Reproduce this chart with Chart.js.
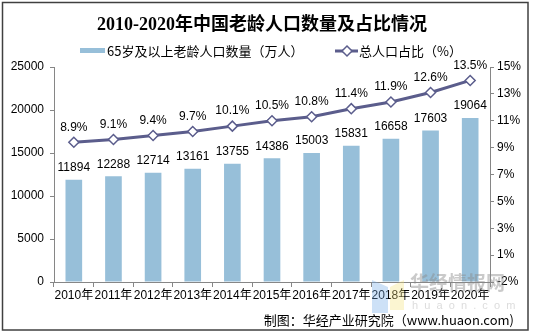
<!DOCTYPE html>
<html>
<head>
<meta charset="utf-8">
<script src="https://cdn.jsdelivr.net/npm/chart.js@4/dist/chart.umd.min.js"></script>
<style>
body { margin: 0; background: #fff; }
</style>
</head>
<body>
<canvas id="myChart" width="534" height="335"></canvas>
<script>
// 数据
var years = ["2010年", "2011年", "2012年", "2013年", "2014年", "2015年", "2016年", "2017年", "2018年", "2019年", "2020年"];
var elderly = [11894, 12288, 12714, 13161, 13755, 14386, 15003, 15831, 16658, 17603, 19064];
var share = [8.9, 9.1, 9.4, 9.7, 10.1, 10.5, 10.8, 11.4, 11.9, 12.6, 13.5];

var titleText = "2010-2020年中国老龄人口数量及占比情况";
var barLabel = "65岁及以上老龄人口数量（万人）";
var lineLabel = "总人口占比（%）";
var sourceText = "制图：华经产业研究院（www.huaon.com)";

var barColor = "#97bfd9";
var lineColor = "#5b5d8c";
var axisColor = "#868686";
var font = '"Liberation Sans", Arial, "Noto Sans CJK SC", sans-serif';
var cjkFont = '"Noto Sans CJK SC", "Liberation Sans", sans-serif';

// 标题、图例、数值标签、来源、边框
var extras = {
	id: "extras",
	afterDatasetsDraw: function (chart) {
		var ctx = chart.ctx;
		ctx.save();
		ctx.fillStyle = "#000";
		ctx.textAlign = "center";
		ctx.textBaseline = "bottom";
		ctx.font = "12px " + font;
		chart.getDatasetMeta(0).data.forEach(function (bar, i) {
			ctx.fillText(elderly[i], bar.x, bar.y - 6);
		});
		chart.getDatasetMeta(1).data.forEach(function (pt, i) {
			ctx.fillText(share[i].toFixed(1) + "%", pt.x, pt.y - 9);
		});
		ctx.restore();
	},
	afterDraw: function (chart) {
		var ctx = chart.ctx;
		ctx.save();

		// 水印
		ctx.globalAlpha = 0.35;
		ctx.fillStyle = "#6fa8e8";
		ctx.beginPath();
		ctx.moveTo(372, 280); ctx.lineTo(388, 287); ctx.lineTo(388, 313); ctx.lineTo(372, 313);
		ctx.closePath(); ctx.fill();
		ctx.fillStyle = "#f3e27a";
		ctx.beginPath();
		ctx.moveTo(390, 287); ctx.lineTo(404, 280); ctx.lineTo(404, 310); ctx.lineTo(390, 310);
		ctx.closePath(); ctx.fill();
		ctx.globalAlpha = 0.45;
		ctx.fillStyle = "#8a8a8a";
		ctx.textAlign = "left";
		ctx.textBaseline = "middle";
		ctx.font = "bold 19px " + cjkFont;
		ctx.fillText("华经情报网", 410, 283);
		ctx.globalAlpha = 0.3;
		ctx.font = "11px " + font;
		ctx.fillText("h  u  a  o  n  .  c  o  m", 412, 306);
		ctx.globalAlpha = 1;

		// 标题
		ctx.fillStyle = "#000";
		ctx.textAlign = "center";
		ctx.textBaseline = "middle";
		ctx.font = 'bold 18px "Liberation Serif", "Noto Sans CJK SC", serif';
		ctx.fillText(titleText, 262, 25);

		// 图例
		ctx.fillStyle = barColor;
		ctx.fillRect(80, 48, 25, 5);
		ctx.fillStyle = "#000";
		ctx.textAlign = "left";
		ctx.font = "13px " + cjkFont;
		ctx.fillText(barLabel, 107, 51);

		ctx.strokeStyle = lineColor;
		ctx.lineWidth = 3;
		ctx.beginPath();
		ctx.moveTo(335, 51);
		ctx.lineTo(358, 51);
		ctx.stroke();
		ctx.fillStyle = "#fff";
		ctx.lineWidth = 1.5;
		ctx.beginPath();
		ctx.moveTo(347, 46); ctx.lineTo(352, 51); ctx.lineTo(347, 56); ctx.lineTo(342, 51);
		ctx.closePath(); ctx.fill(); ctx.stroke();
		ctx.fillStyle = "#000";
		ctx.fillText(lineLabel, 359, 51);

		// 来源
		ctx.textAlign = "right";
		ctx.font = "13px " + cjkFont;
		ctx.fillText(sourceText, 514, 320);

		// 外框
		ctx.strokeStyle = "#404040";
		ctx.lineWidth = 1.5;
		ctx.strokeRect(2.5, 2.5, 525.5, 327.5);
		ctx.restore();
	},
};

var ctx = document.getElementById("myChart").getContext("2d");
var myChart = new Chart(ctx, {
	type: "bar",
	data: {
		labels: years,
		datasets: [
			{
				label: barLabel,
				data: elderly,
				backgroundColor: barColor,
				yAxisID: "y",
				barPercentage: 0.42,
				categoryPercentage: 1,
				order: 1,
			},
			{
				type: "line",
				label: lineLabel,
				data: share,
				yAxisID: "y1",
				borderColor: lineColor,
				borderWidth: 3,
				tension: 0,
				pointStyle: "rectRot",
				pointRadius: 5,
				pointBackgroundColor: "#fff",
				pointBorderColor: lineColor,
				pointBorderWidth: 1.5,
				order: 0,
			},
		],
	},
	options: {
		responsive: false,
		animation: false,
		layout: {
			padding: { top: 67, left: 0, right: 0, bottom: 0 },
		},
		plugins: {
			legend: { display: false },
			title: { display: false },
			tooltip: { enabled: false },
		},
		scales: {
			x: {
				grid: { drawOnChartArea: false, tickLength: 5, color: axisColor, offset: true },
				border: { color: axisColor },
				ticks: { color: "#000", font: { size: 12, family: font }, maxRotation: 0, autoSkip: false, padding: 1 },
				afterFit: function (s) { s.height = 53; },
			},
			y: {
				position: "left",
				min: 0,
				max: 25000,
				ticks: {
					stepSize: 5000,
					color: "#000",
					font: { size: 12, family: font },
					padding: 6,
					callback: function (v) { return String(v); },
				},
				grid: { drawOnChartArea: false, tickLength: 4, color: axisColor },
				border: { color: axisColor },
				afterFit: function (s) { s.width = 54; },
			},
			y1: {
				position: "right",
				min: -1.5,
				max: 14.5,
				ticks: {
					stepSize: 2,
					color: "#000",
					font: { size: 12, family: font },
					padding: 3,
					callback: function (v) {
						return (v < 0 ? "-" + Math.round(-v) : Math.round(v)) + "%";
					},
				},
				grid: { drawOnChartArea: false, tickLength: 4, color: axisColor },
				border: { color: axisColor },
				afterFit: function (s) { s.width = 44; },
			},
		},
	},
	plugins: [extras],
});
</script>
</body>
</html>
